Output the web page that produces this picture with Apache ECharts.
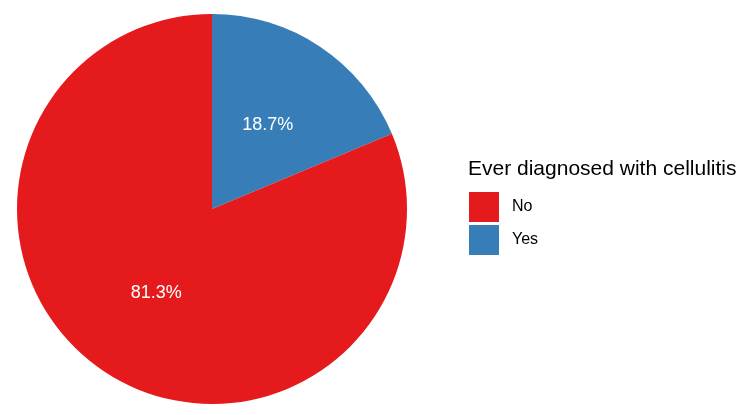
<!DOCTYPE html>
<html>
<head>
<meta charset="utf-8">
<script src="https://cdn.jsdelivr.net/npm/echarts@6/dist/echarts.min.js"></script>
<style>
  html, body { margin: 0; padding: 0; background: #fff; }
  #chart { width: 750px; height: 415px; }
</style>
</head>
<body>
<div id="chart"></div>
<script>
const categories = ["Yes", "No"];
const shares = [18.7, 81.3];
const legendOrder = ["No", "Yes"];
const colorMap = { No: "#E41A1C", Yes: "#377EB8" };

const chartDom = document.getElementById("chart");
const myChart = echarts.init(chartDom);

myChart.setOption({
  animation: false,
  textStyle: { fontFamily: "Liberation Sans, Arial, sans-serif" },
  title: {
    text: "Ever diagnosed with cellulitis",
    left: 468,
    top: 159,
    padding: 0,
    textStyle: {
      fontFamily: "Liberation Sans, Arial, sans-serif",
      fontSize: 21,
      fontWeight: "normal",
      color: "#000",
    },
  },
  legend: {
    data: legendOrder,
    orient: "vertical",
    left: 469,
    top: 192,
    padding: 0,
    itemWidth: 30,
    itemHeight: 30,
    itemGap: 3,
    icon: "rect",
    textStyle: {
      fontSize: 16,
      color: "#000",
      padding: [0, 0, 0, 8],
    },
  },
  series: [
    {
      type: "pie",
      center: [212, 209],
      radius: [0, 195],
      startAngle: 90,
      clockwise: true,
      silent: true,
      label: {
        position: "inside",
        formatter: (p) => p.value.toFixed(1) + "%",
        color: "#fff",
        fontSize: 18,
      },
      labelLine: { show: false },
      itemStyle: { borderWidth: 0 },
      data: categories.map((name, i) => ({
        name: name,
        value: shares[i],
        itemStyle: { color: colorMap[name] },
      })),
    },
  ],
});
</script>
</body>
</html>
